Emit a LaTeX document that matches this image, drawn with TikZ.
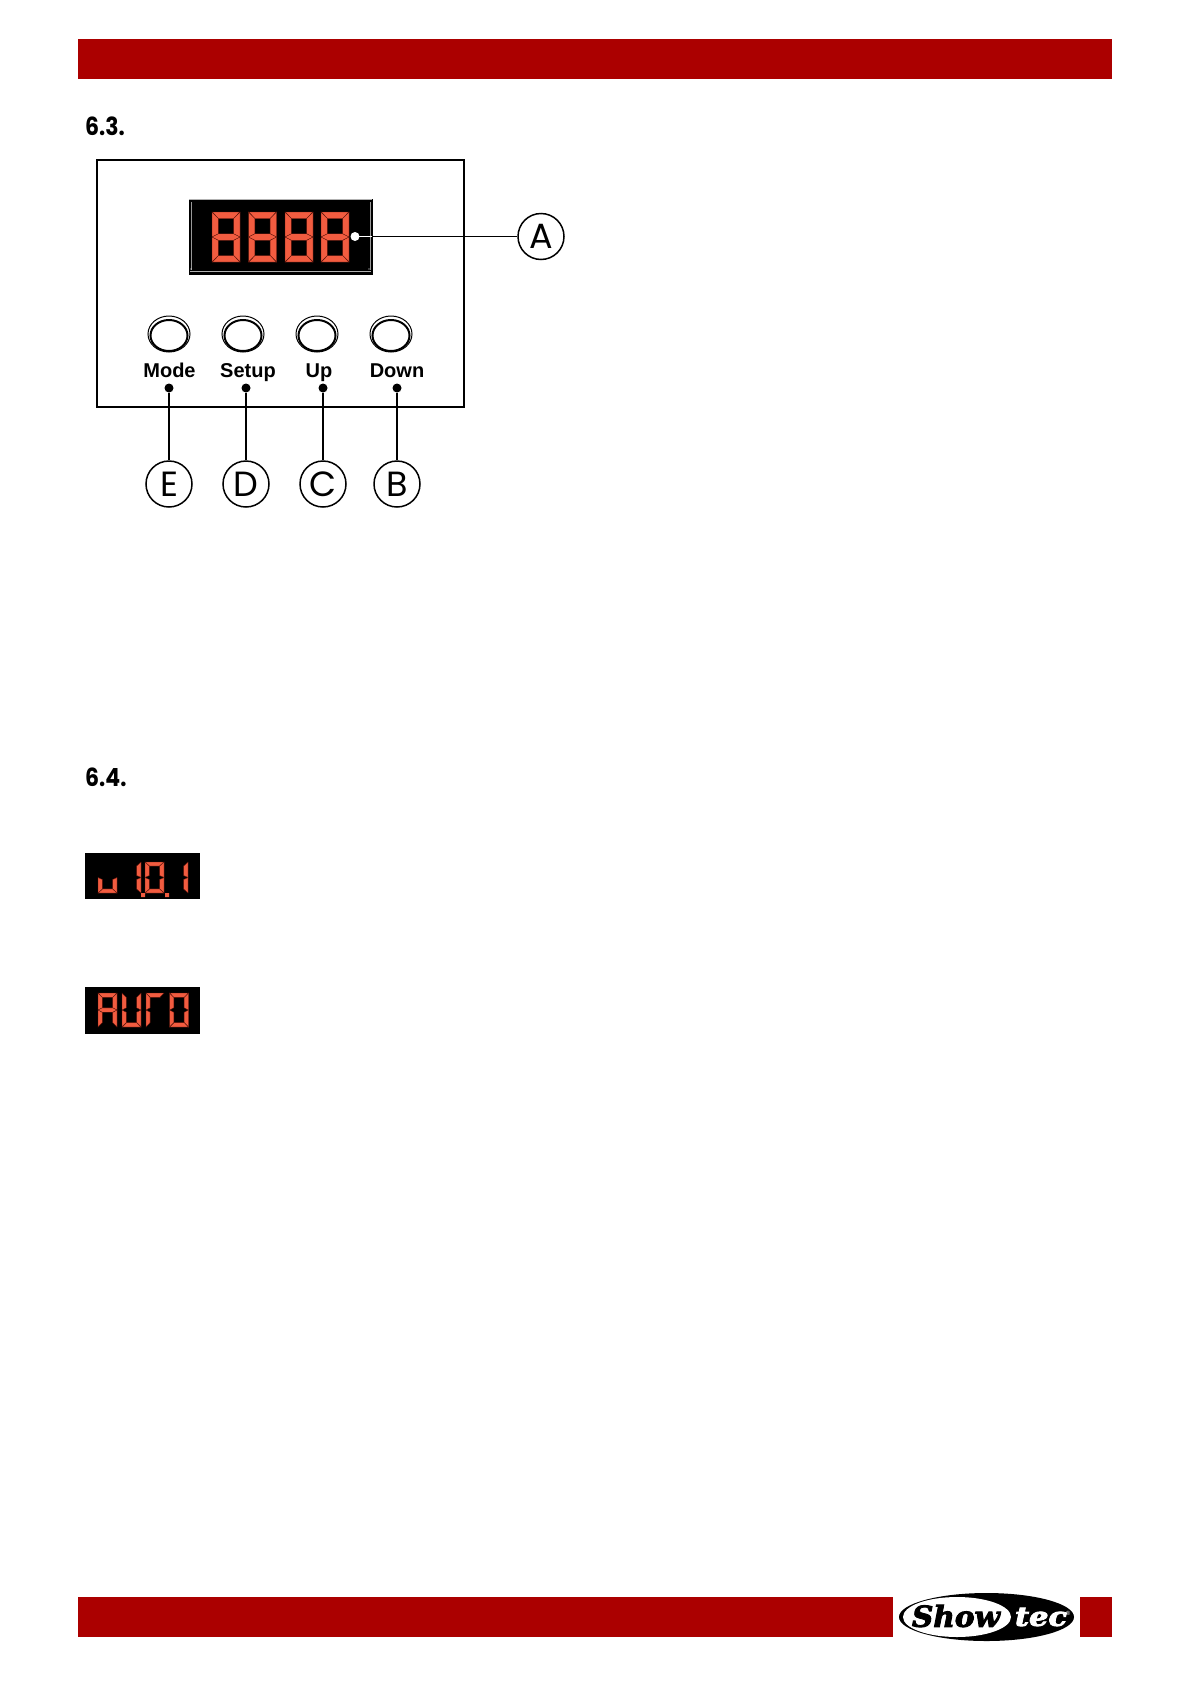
\documentclass[tikz,border=0pt]{standalone}
\usepackage{fontspec}
\setmainfont{Liberation Sans}
\newfontfamily\headfont{Poppins}
\newfontfamily\logofont[BoldItalicFeatures={FakeBold=3}]{DejaVu Serif}
\definecolor{barred}{HTML}{AB0000}
\definecolor{ledred}{HTML}{F25C40}
\definecolor{ledline}{HTML}{5A1208}
\tikzset{
  bar/.style={fill=barred,draw=none},
  heading/.style={font=\headfont\bfseries\fontsize{25}{25}\selectfont,anchor=base west,inner sep=0pt,xscale=.88,transform shape},
  panel/.style={draw=black,line width=1.6pt},
  keylabel/.style={font=\bfseries\fontsize{20}{20}\selectfont,inner sep=0pt,anchor=base},
  pindot/.style={circle,fill=black,inner sep=0pt,minimum size=9pt},
  whitedot/.style={circle,fill=white,inner sep=0pt,minimum size=9pt},
  callout/.style={circle,draw=black,line width=1.5pt,fill=white,inner sep=0pt,minimum size=46pt,font=\headfont\fontsize{35}{35}\selectfont},
  leader/.style={draw=black,line width=1.8pt},
  seg/.style={fill=ledred,draw=ledline,line width=.4pt,line join=miter},
}
\newcommand{\sega}{\path[seg] (0,0)--(1,0)--(.77,.13)--(.23,.13)--cycle;}
\newcommand{\segb}{\path[seg] (1,0)--(1,.5)--(.77,.435)--(.77,.13)--cycle;}
\newcommand{\segc}{\path[seg] (1,.5)--(1,1)--(.77,.87)--(.77,.565)--cycle;}
\newcommand{\segd}{\path[seg] (0,1)--(1,1)--(.77,.87)--(.23,.87)--cycle;}
\newcommand{\sege}{\path[seg] (0,.5)--(0,1)--(.23,.87)--(.23,.565)--cycle;}
\newcommand{\segf}{\path[seg] (0,0)--(0,.5)--(.23,.435)--(.23,.13)--cycle;}
\newcommand{\segg}{\path[seg] (0,.5)--(.23,.435)--(.77,.435)--(1,.5)--(.77,.565)--(.23,.565)--cycle;}
\newcommand{\ledigit}[5]{\begin{scope}[shift={(#1,#2)},x=#3pt,y=-#4pt]
  \foreach \s in {#5}{\csname seg\s\endcsname}\end{scope}}
\begin{document}
\begin{tikzpicture}[x=1pt,y=-1pt]
\useasboundingbox (0,0) rectangle (1191,1684);
\fill[white] (0,0) rectangle (1191,1684);
% page bars
\path[bar] (78,39) rectangle (1112,79);
\path[bar] (78,1597) rectangle (893,1637);
\path[bar] (1080,1597) rectangle (1112,1637);
% headings
\node[heading] (h63) at (85,135.5) {6.3.};
\node[heading] (h64) at (85,786.5) {6.4.};
% panel
\draw[panel] (97,160) rectangle (464,407);
% display
\fill[black] (189,198.5) rectangle (372.5,274.5);
\draw[white!70!black,line width=.7pt] (189,199) -- (372,199);
\draw[white!70!black,line width=.6pt] (190,271.5) -- (371,271.5);
\draw[white!60!black,line width=.6pt] (191,202) -- (191,270) (370.5,202) -- (370.5,270);
\fill[white] (191,269) circle (.7pt) (369,269) circle (.7pt);
\foreach \dx in {212,248.5,285,321}{\ledigit{\dx}{212}{28}{50}{a,b,c,d,e,f,g}}
% buttons
\foreach \bx/\bn in {169/1,243/2,317/3,391/4}{
  \draw[black,line width=1pt,fill=white] (\bx,334) ellipse (21pt and 18pt);
  \draw[black,line width=2pt] (\bx,335.5) ellipse (18.5pt and 15.5pt);
}
% key labels
\node[keylabel] (lmode) at (169.5,377) {Mode};
\node[keylabel] (lsetup) at (248,377) {Setup};
\node[keylabel] (lup) at (319,377) {Up};
\node[keylabel] (ldown) at (397,377) {Down};
% callouts
\node[callout] (A) at (541,236.5) {A};
\node[callout] (E) at (169,484) {E};
\node[callout] (D) at (246,484) {D};
\node[callout] (C) at (323,484) {C};
\node[callout] (B) at (397,484) {B};
\node[pindot] (pe) at (169,388) {};
\node[pindot] (pd) at (246,388) {};
\node[pindot] (pc) at (323,388) {};
\node[pindot] (pb) at (397,388) {};
\node[whitedot] (pa) at (355,236.5) {};
\coordinate (ja) at (372,236.5);
\draw[white,line width=1.5pt] (pa.center) -- (ja);
\draw[leader] (ja) -- (A);
\draw[leader] (pe) -- (E);
\draw[leader] (pd) -- (D);
\draw[leader] (pc) -- (C);
\draw[leader] (pb) -- (B);
% small display v1.0.1
\fill[black] (85,853) rectangle (200,899);
\ledigit{98}{862}{19}{31}{c,d,e}
\ledigit{122}{862}{19}{31}{b,c}
\ledigit{145}{862}{19}{31}{a,b,c,d,e,f}
\ledigit{169}{862}{19}{31}{b,c}
\fill[ledred] (141,893) rectangle (145,897) (165,893) rectangle (169,897);
% small display AUTO
\fill[black] (85,987) rectangle (200,1034);
\ledigit{98}{993}{19}{34}{a,b,c,e,f,g}
\ledigit{122}{993}{19}{34}{b,c,d,e,f}
\ledigit{146}{993}{18}{34}{a,e,f}
\ledigit{169.5}{993}{19}{34}{a,b,c,d,e,f}
% logo
\fill[black] (986.5,1617) ellipse (87.5pt and 24pt);
\fill[white] (957,1617) ellipse (54pt and 20pt);
\node[inner sep=0pt,font=\logofont\bfseries\itshape] (show) at (956,1616) {\resizebox{88pt}{22pt}{Show}};
\node[inner sep=0pt,font=\logofont\bfseries\itshape,text=white] (tec) at (1041,1617) {\resizebox{52pt}{18pt}{tec}};
\node[inner sep=0pt,text=white,font=\fontsize{6}{6}\selectfont] (reg) at (1068,1613) {®};
\end{tikzpicture}
\end{document}
